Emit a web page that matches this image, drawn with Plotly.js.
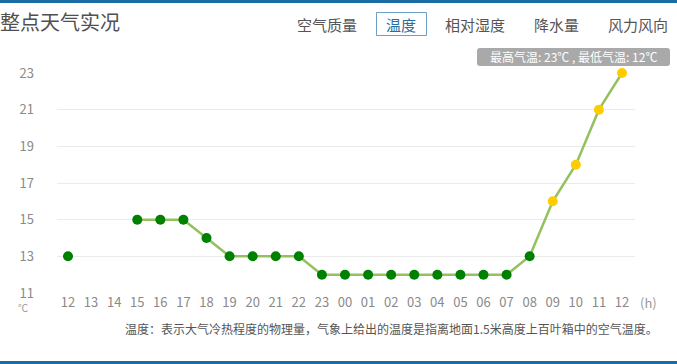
<!DOCTYPE html>
<html>
<head>
<meta charset="utf-8">
<script src="https://cdn.plot.ly/plotly-3.0.1.min.js"></script>
<style>
html,body{margin:0;padding:0;background:#fff;}
#chart{width:677px;height:364px;}
</style>
</head>
<body>
<div id="chart"></div>
<script>
// ---- data ----
const hours = ["12","13","14","15","16","17","18","19","20","21","22","23","00","01","02","03","04","05","06","07","08","09","10","11","12"];
const temps = [13, null, null, 15, 15, 15, 14, 13, 13, 13, 13, 12, 12, 12, 12, 12, 12, 12, 12, 12, 13, 16, 18, 21, 23];
const yTicks = [11, 13, 15, 17, 19, 21, 23];
const tabs = ["空气质量", "温度", "相对湿度", "降水量", "风力风向"];
const chartTitle = "整点天气实况";
const badgeText = "最高气温: 23℃ , 最低气温: 12℃";
const noteText = "温度：表示大气冷热程度的物理量，气象上给出的温度是指离地面1.5米高度上百叶箱中的空气温度。";

// ---- geometry helpers (pixels -> paper) ----
const W = 677, H = 364, L = 57, R = 635, T = 73, B = 293;
const xp = px => (px - L) / (R - L);
const yp = py => (B - py) / (B - T);
const idx = hours.map((_, i) => i);
const markerColors = temps.map(v => (v !== null && v >= 16) ? "#ffcc00" : "#008000");
const FONT = "Noto Sans CJK SC, Microsoft YaHei, sans-serif";

function roundRect(x0, y0, x1, y1, r) {
  const X = xp, Y = yp;
  return `M ${X(x0 + r)} ${Y(y0)} L ${X(x1 - r)} ${Y(y0)} Q ${X(x1)} ${Y(y0)} ${X(x1)} ${Y(y0 + r)} ` +
         `L ${X(x1)} ${Y(y1 - r)} Q ${X(x1)} ${Y(y1)} ${X(x1 - r)} ${Y(y1)} ` +
         `L ${X(x0 + r)} ${Y(y1)} Q ${X(x0)} ${Y(y1)} ${X(x0)} ${Y(y1 - r)} ` +
         `L ${X(x0)} ${Y(y0 + r)} Q ${X(x0)} ${Y(y0)} ${X(x0 + r)} ${Y(y0)} Z`;
}

const trace = {
  x: idx,
  y: temps,
  type: "scatter",
  mode: "lines+markers",
  connectgaps: false,
  cliponaxis: false,
  line: {color: "#93c160", width: 2.5},
  marker: {color: markerColors, size: 10},
  hoverinfo: "none"
};

const tabX = [327, 401, 475, 556, 638];
const annotations = [];
annotations.push({xref: "paper", yref: "paper", x: xp(-2), y: yp(22), xanchor: "left", yanchor: "middle",
  text: chartTitle, showarrow: false, font: {family: FONT, size: 20, color: "#505050"}});
tabs.forEach((t, i) => {
  annotations.push({xref: "paper", yref: "paper", x: xp(tabX[i]), y: yp(24), xanchor: "center", yanchor: "middle",
    text: t, showarrow: false, font: {family: FONT, size: 15, color: i === 1 ? "#2a6d9e" : "#555"}});
});
annotations.push({xref: "paper", yref: "paper", x: xp(573), y: yp(57), xanchor: "center", yanchor: "middle",
  text: badgeText, showarrow: false, font: {family: FONT, size: 12, color: "#ffffff"}});
annotations.push({xref: "paper", yref: "paper", x: xp(648), y: yp(302), xanchor: "center", yanchor: "middle",
  text: "(h)", showarrow: false, font: {family: FONT, size: 13, color: "#999"}});
annotations.push({xref: "paper", yref: "paper", x: xp(23), y: yp(307), xanchor: "center", yanchor: "middle",
  text: "℃", showarrow: false, font: {family: FONT, size: 10, color: "#999"}});
annotations.push({xref: "paper", yref: "paper", x: xp(123), y: yp(328), xanchor: "left", yanchor: "middle",
  text: noteText, showarrow: false, font: {family: FONT, size: 12, color: "#555"}});

const shapes = [
  {type: "rect", xref: "paper", yref: "paper", x0: xp(0), x1: xp(W), y0: yp(0), y1: yp(3),
    fillcolor: "#1b6ca5", line: {width: 0}},
  {type: "rect", xref: "paper", yref: "paper", x0: xp(0), x1: xp(W), y0: yp(361), y1: yp(364),
    fillcolor: "#1b6ca5", line: {width: 0}},
  {type: "rect", xref: "paper", yref: "paper", x0: xp(376.5), x1: xp(426.5), y0: yp(12.5), y1: yp(35.5),
    fillcolor: "rgba(0,0,0,0)", line: {color: "#6b9fc5", width: 1}},
  {type: "path", xref: "paper", yref: "paper", path: roundRect(477, 48, 670, 66, 3),
    fillcolor: "#a9a9a9", line: {width: 0}}
];

const layout = {
  width: W, height: H,
  margin: {l: L, r: W - R, t: T, b: H - B, pad: 0},
  paper_bgcolor: "#ffffff",
  plot_bgcolor: "#ffffff",
  showlegend: false,
  xaxis: {
    range: [-0.4765, 24.563],
    tickvals: idx, ticktext: hours,
    showgrid: false, zeroline: false, showline: false, ticks: "",
    tickfont: {family: FONT, size: 13, color: "#8a8a8a"},
    fixedrange: true
  },
  yaxis: {
    range: [11, 23],
    tickvals: yTicks, ticktext: yTicks.map(String),
    showgrid: true, gridcolor: "#ebebeb", gridwidth: 1,
    zeroline: false, showline: false, ticks: "",
    ticklabelstandoff: 22,
    tickfont: {family: FONT, size: 13, color: "#8a8a8a"},
    fixedrange: true
  },
  annotations: annotations,
  shapes: shapes
};

Plotly.newPlot("chart", [trace], layout, {displayModeBar: false, staticPlot: true});
</script>
</body>
</html>
